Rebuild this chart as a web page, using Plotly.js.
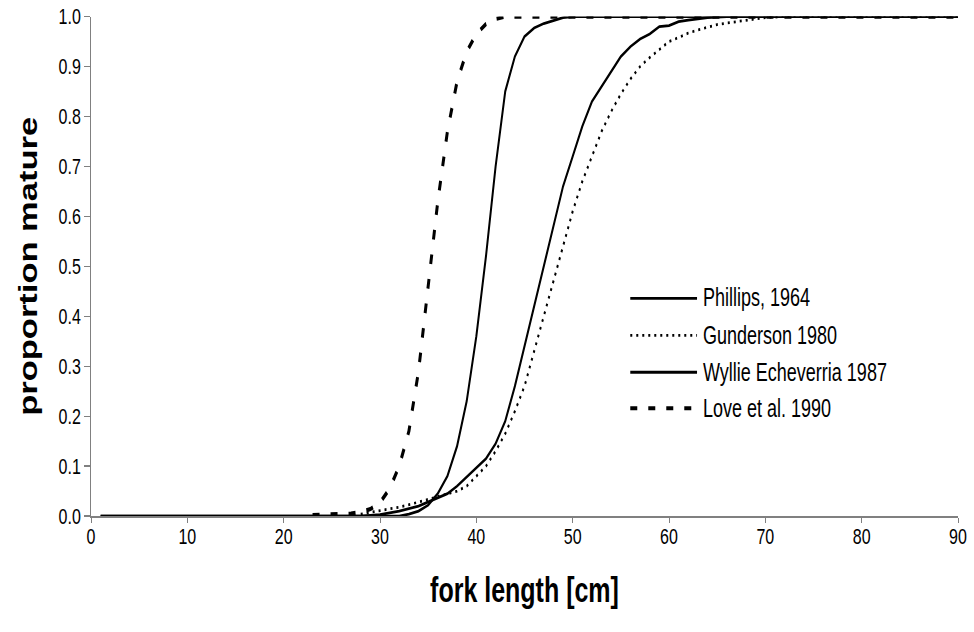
<!DOCTYPE html>
<html>
<head>
<meta charset="utf-8">
<script src="https://cdn.plot.ly/plotly-3.0.1.min.js"></script>
<style>
  html { margin: 0; padding: 0; background: #ffffff; }
  body { margin: 0; padding: 0; background: #ffffff; width: 974px; height: 632px; }
  #chart { width: 974px; transform-origin: 0 0; }
</style>
</head>
<body>
<div id="chart"></div>
<script>
// Maturity ogives: proportion mature against fork length [cm]
const seriesNames = ["Phillips, 1964", "Gunderson 1980", "Wyllie Echeverria 1987", "Love et al. 1990"];

const phillipsX = [1, 32, 33, 34, 35, 36, 37, 38, 39, 40, 41, 42, 43, 44, 45, 46, 47, 48, 49, 50, 90];
const phillipsY = [0, 0, 0.004, 0.01, 0.022, 0.045, 0.08, 0.14, 0.23, 0.36, 0.52, 0.7, 0.85, 0.92, 0.96, 0.977, 0.986, 0.993, 0.998, 1, 1];

const gundersonX = [28, 30, 32, 34, 36, 38, 39, 40, 41, 42, 43, 44, 45, 46, 47, 48, 49, 50, 51, 52, 53, 54, 55, 56, 57, 58, 59, 60, 61, 62, 63, 64, 65, 66, 67, 68, 69, 70, 72, 90];
const gundersonY = [0.004, 0.01, 0.018, 0.028, 0.04, 0.05, 0.06, 0.08, 0.1, 0.13, 0.165, 0.21, 0.26, 0.33, 0.4, 0.47, 0.54, 0.61, 0.67, 0.72, 0.77, 0.81, 0.845, 0.875, 0.9, 0.918, 0.935, 0.95, 0.958, 0.967, 0.973, 0.979, 0.984, 0.987, 0.99, 0.993, 0.996, 0.998, 1, 1];

const wyllieX = [1, 28, 30, 32, 34, 35, 36, 37, 38, 39, 40, 41, 42, 43, 44, 45, 46, 47, 48, 49, 50, 51, 52, 53, 54, 55, 56, 57, 58, 59, 60, 61, 62, 63, 64, 66, 90];
const wyllieY = [0, 0, 0.003, 0.01, 0.02, 0.028, 0.035, 0.045, 0.06, 0.078, 0.095, 0.115, 0.145, 0.19, 0.26, 0.34, 0.42, 0.5, 0.58, 0.66, 0.72, 0.78, 0.83, 0.86, 0.89, 0.92, 0.94, 0.955, 0.965, 0.98, 0.982, 0.99, 0.993, 0.996, 0.998, 1, 1];

const loveX = [23, 25, 27, 28, 29, 30, 31, 32, 33, 34, 35, 36, 37, 38, 39, 40, 41, 42, 43, 90];
const loveY = [0.002, 0.003, 0.005, 0.008, 0.014, 0.027, 0.055, 0.1, 0.17, 0.29, 0.46, 0.63, 0.77, 0.87, 0.93, 0.965, 0.985, 0.995, 1, 1];

const xTickVals = [0, 10, 20, 30, 40, 50, 60, 70, 80, 90];
const yTickVals = [0, 0.1, 0.2, 0.3, 0.4, 0.5, 0.6, 0.7, 0.8, 0.9, 1.0];

// The figure is laid out at a reduced height and then stretched vertically,
// which gives the tall, narrow lettering and heavier horizontal strokes.
const FULL_W = 974, FULL_H = 632, STRETCH = 1.38;
const H = FULL_H / STRETCH;

const lineStyles = [
  { color: "#000000", width: 2, dash: "solid" },
  { color: "#000000", width: 2, dash: "2px,4px" },
  { color: "#000000", width: 2, dash: "solid" },
  { color: "#000000", width: 3, dash: "7px,11px" }
];

const xs = [phillipsX, gundersonX, wyllieX, loveX];
const ys = [phillipsY, gundersonY, wyllieY, loveY];

const traces = xs.map((x, i) => ({
  type: "scatter",
  mode: "lines",
  name: seriesNames[i],
  x: x,
  y: ys[i],
  line: lineStyles[i],
  showlegend: false,
  hoverinfo: "skip"
}));

// Key drawn in paper coordinates: a long line sample followed by the label
const keyX0 = 0.622, keyX1 = 0.699, keyTextX = 0.703;
const keyRows = [0.436, 0.362, 0.288, 0.216];
const shapes = keyRows.map((yy, i) => ({
  type: "line", xref: "paper", yref: "paper",
  x0: keyX0, x1: keyX1, y0: yy, y1: yy,
  line: lineStyles[i]
}));
const annotations = keyRows.map((yy, i) => ({
  xref: "paper", yref: "paper", x: keyTextX, y: yy,
  xanchor: "left", yanchor: "middle", showarrow: false,
  text: seriesNames[i],
  font: { family: "Liberation Sans, Arial, sans-serif", size: 18, color: "#000000" }
}));

const axisFont = { family: "Liberation Sans, Arial, sans-serif", size: 16, color: "#000000" };
const titleFont = { family: "Liberation Sans, Arial, sans-serif", size: 25, color: "#000000", weight: "bold" };

const layout = {
  width: FULL_W,
  height: H,
  margin: { l: 91, r: 16, t: 16 / STRETCH, b: H - 516 / STRETCH },
  paper_bgcolor: "#ffffff",
  plot_bgcolor: "#ffffff",
  showlegend: false,
  xaxis: {
    range: [0, 90],
    tickvals: xTickVals,
    ticktext: xTickVals.map(v => String(v)),
    ticks: "outside", ticklen: 4, tickcolor: "#808080", tickwidth: 1,
    ticklabelstandoff: -4,
    showline: true, linecolor: "#808080", linewidth: 1,
    showgrid: false, zeroline: false,
    tickfont: axisFont,
    title: { text: "<b>fork length [cm]</b>", font: titleFont, standoff: 22 }
  },
  yaxis: {
    range: [0, 1],
    tickvals: yTickVals,
    ticktext: yTickVals.map(v => v.toFixed(1)),
    ticks: "outside", ticklen: 6, tickcolor: "#808080", tickwidth: 1,
    showline: true, linecolor: "#808080", linewidth: 1,
    showgrid: false, zeroline: false,
    tickfont: axisFont,
    title: { text: "<b>proportion mature</b>", font: titleFont, standoff: 13 }
  },
  shapes: shapes,
  annotations: annotations
};

const el = document.getElementById("chart");
el.style.height = H + "px";
el.style.transform = "scaleY(" + STRETCH + ")";
Plotly.newPlot(el, traces, layout, { staticPlot: true, displayModeBar: false });
</script>
</body>
</html>
